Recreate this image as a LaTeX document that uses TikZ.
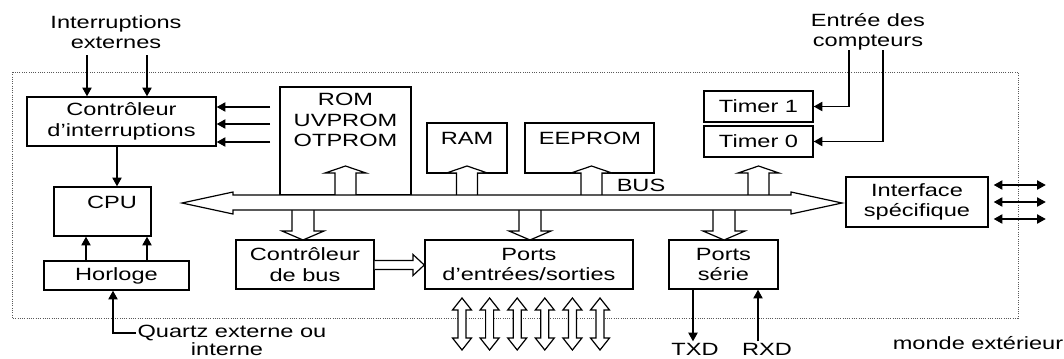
\documentclass[tikz,border=0pt]{standalone}
\usepackage{fontspec}
\setmainfont{Liberation Sans}[FakeStretch=1.33]
\usetikzlibrary{arrows.meta,calc}
\newcommand\hollowup[1]{\draw[hollow] (#1-10.5,195) -- (#1-10.5,173) -- (#1-20.5,173) -- (#1,166) -- (#1+20.5,173) -- (#1+10.5,173) -- (#1+10.5,195);}
\newcommand\hollowdown[1]{\draw[hollow] (#1-11,210) -- (#1-11,231) -- (#1-21,231) -- (#1,240) -- (#1+21,231) -- (#1+11,231) -- (#1+11,210);}
\newcommand\hollowdbl[1]{\draw[hollow] (#1,298) -- (#1+9.5,310) -- (#1+4,310) -- (#1+4,338) -- (#1+9.5,338) -- (#1,350) -- (#1-9.5,338) -- (#1-4,338) -- (#1-4,310) -- (#1-9.5,310) -- cycle;}
\begin{document}
\begin{tikzpicture}[x=0.75pt,y=-0.75pt,
  font=\fontsize{13.3}{15.3}\selectfont,
  box/.style={draw, line width=1.1pt, inner sep=0pt, align=center},
  sz/.style 2 args={minimum width=#1*0.75pt, minimum height=#2*0.75pt},
  txt/.style={align=center, inner sep=1pt},
  arr/.style={line width=0.9pt, -{Triangle[length=6.5pt,width=7pt]}},
  darr/.style={line width=0.9pt, {Triangle[length=6.5pt,width=7pt]}-{Triangle[length=6.5pt,width=7pt]}},
  hollow/.style={draw, line width=0.9pt, fill=white, line join=miter},
  border/.style={densely dotted, line width=0.7pt, gray!70!black}]
\useasboundingbox (0,0) rectangle (1064,358);
\fill[white] (0,0) rectangle (1064,358);

% outer boundary
\draw[border] (12,72) rectangle (1018,318);

% boxes
\node[box, sz={189}{49}] (ci) at (121.5,121.5) {Contrôleur\\d'interruptions};
\node[box, sz={97}{49}] (cpu) at (102.5,211.5) {};
\node[txt] (cput) at (112,202) {CPU};
\node[box, sz={145}{29}] (hor) at (116.5,275.5) {Horloge};
\node[box, sz={131}{108}] (rom) at (345.5,141) {};
\node[txt] (romt) at (345.5,120) {ROM\\UVPROM\\OTPROM};
\node[box, sz={80}{50}] (ram) at (467,148) {};
\node[txt] (ramt) at (467,138) {RAM};
\node[box, sz={129}{50}] (eep) at (589.5,148) {};
\node[txt] (eept) at (590,138) {EEPROM};
\node[box, sz={109}{31}] (t1) at (758.5,106.5) {Timer 1};
\node[box, sz={109}{31}] (t0) at (758.5,141.5) {Timer 0};
\node[box, sz={142}{50}] (if) at (917,202) {Interface\\spécifique};
\node[box, sz={138}{49}] (cb) at (305,264.5) {Contrôleur\\de bus};
\node[box, sz={208}{49}] (pe) at (529,264.5) {Ports\\d'entrées/sorties};
\node[box, sz={109}{49}] (ps) at (723.5,264.5) {Ports\\série};

% hollow arrows to/from bus
\hollowup{345.5}
\hollowup{467}
\hollowup{591.5}
\hollowup{758.5}
\hollowdown{303}
\hollowdown{530}
\hollowdown{724}
% bus
\draw[hollow] (182,203) -- (233,192) -- (233,195) -- (791,195) -- (791,192) -- (842,203) -- (791,214) -- (791,210) -- (233,210) -- (233,214) -- cycle;
\node[txt] (bus) at (641,185) {BUS};
% bus controller -> ports
\draw[hollow] (cb.east |- 0,260.5) -- (413,260.5) -- (413,254.5) -- (pe.west |- 0,265) -- (413,275.5) -- (413,269.5) -- (cb.east |- 0,269.5);
% I/O double arrows
\foreach \c in {462,489.6,517.2,544.8,572.4,600} {\hollowdbl{\c}}

% external labels
\node[txt] (ie) at (116,32) {Interruptions\\externes};
\coordinate (ie1) at (87,55);
\coordinate (ie2) at (147,55);
\draw[arr] (ie1) -- (ie1 |- ci.north);
\draw[arr] (ie2) -- (ie2 |- ci.north);
\coordinate (li1) at (270,107);
\coordinate (li2) at (270,124);
\coordinate (li3) at (270,142);
\draw[arr] (li1) -- (li1 -| ci.east);
\draw[arr] (li2) -- (li2 -| ci.east);
\draw[arr] (li3) -- (li3 -| ci.east);
\coordinate (cis) at ($(ci.south)+(-4.5,0)$);
\draw[arr] (cis) -- (cis |- cpu.north);
\coordinate (h1) at ($(hor.north)+(-30.5,0)$);
\coordinate (h2) at ($(hor.north)+(30.5,0)$);
\draw[arr] (h1) -- (h1 |- cpu.south);
\draw[arr] (h2) -- (h2 |- cpu.south);

\node[txt, anchor=west] (qz) at (136,333) {Quartz externe ou};
\node[txt] (qzi) at (227,349) {interne};
\coordinate (qh) at ($(hor.south)+(-3.5,0)$);
\draw[arr] (qz.west) -| (qh);

\node[txt] (ec) at (868,32) {Entrée des\\compteurs};
\coordinate (ec1) at (849,50);
\coordinate (ec2) at (883,50);
\draw[arr] (ec1) |- (t1.east);
\draw[arr] (ec2) |- (t0.east);

\coordinate (ia1) at ($(if.east)+(5,-17)$);
\coordinate (ia2) at ($(if.east)+(5,0)$);
\coordinate (ia3) at ($(if.east)+(5,17)$);
\draw[darr] (ia1) -- ++(52,0);
\draw[darr] (ia2) -- ++(52,0);
\draw[darr] (ia3) -- ++(52,0);

\node[txt] (txd) at (695,349) {TXD};
\node[txt] (rxd) at (767,349) {RXD};
\coordinate (tx) at ($(ps.south)+(-30.5,0)$);
\coordinate (rx) at ($(ps.south)+(34.5,0)$);
\draw[arr] (tx) -- (tx |- txd.north);
\draw[arr] (rx |- rxd.north) -- (rx);

\node[txt] (me) at (978,343) {monde extérieur};
\end{tikzpicture}
\end{document}
